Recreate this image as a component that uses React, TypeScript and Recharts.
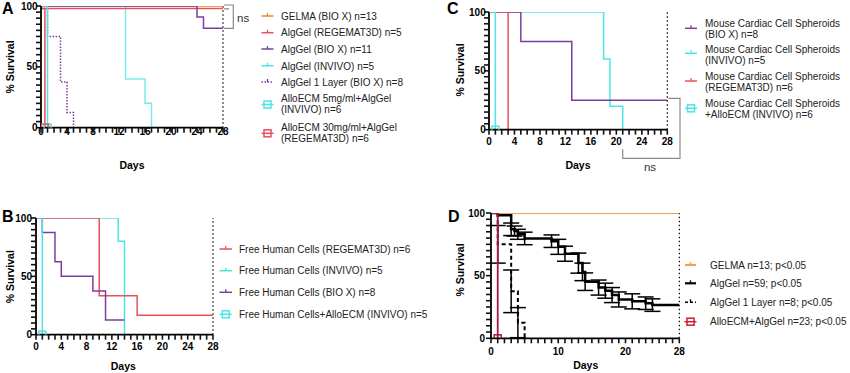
import React from 'react';
import { LineChart, Line, XAxis, YAxis, ReferenceLine, ErrorBar } from 'recharts';

type Pt = { t: number; s: number; e?: number };

// ---------- tick values ----------
const dayTicks = [0, 1, 2, 3, 4, 5, 6, 7, 8, 9, 10, 11, 12, 13, 14, 15, 16, 17, 18, 19, 20, 21, 22, 23, 24, 25, 26, 27, 28];
const dayLabelsABC = [0, 4, 8, 12, 16, 20, 24, 28];
const dayLabelsD = [0, 10, 20, 28];
const survTicks = [0, 5, 10, 15, 20, 25, 30, 35, 40, 45, 50, 55, 60, 65, 70, 75, 80, 85, 90, 95, 100];
const survLabels = [0, 50, 100];

// ---------- Panel A ----------
const gelmaA: Pt[] = [{ t: 0, s: 100 }, { t: 28, s: 100 }];
const algRegA: Pt[] = [{ t: 0, s: 98 }, { t: 28, s: 98 }];
const algBioA: Pt[] = [{ t: 0, s: 100 }, { t: 24, s: 90.9 }, { t: 25, s: 81.8 }, { t: 28, s: 81.8 }];
const algInvA: Pt[] = [{ t: 0, s: 100 }, { t: 13, s: 40 }, { t: 16, s: 20 }, { t: 17, s: 0 }];
const alg1LA: Pt[] = [{ t: 0, s: 100 }, { t: 1, s: 75 }, { t: 3, s: 37.5 }, { t: 4, s: 12.5 }, { t: 5, s: 0 }];
const ecm5A: Pt[] = [{ t: 0, s: 100 }, { t: 1, s: 0 }];
const ecm30A: Pt[] = [{ t: 0, s: 98 }, { t: 0.6, s: 0 }];
const legendA = [
  ['GELMA (BIO X) n=13'],
  ['AlgGel (REGEMAT3D) n=5'],
  ['AlgGel (BIO X) n=11'],
  ['AlgGel (INVIVO) n=5'],
  ['AlgGel 1 Layer (BIO X) n=8'],
  ['AlloECM 5mg/ml+AlgGel', '(INVIVO) n=6'],
  ['AlloECM 30mg/ml+AlgGel', '(REGEMAT3D) n=6'],
];

// ---------- Panel B ----------
const redB: Pt[] = [{ t: 0, s: 100 }, { t: 10, s: 33.3 }, { t: 16, s: 16.7 }, { t: 28, s: 16.7 }];
const cyanB: Pt[] = [{ t: 0, s: 100 }, { t: 13, s: 80 }, { t: 14, s: 0 }];
const purpleB: Pt[] = [{ t: 0, s: 100 }, { t: 1, s: 87.5 }, { t: 3, s: 62.5 }, { t: 4, s: 50 }, { t: 9, s: 37.5 }, { t: 11, s: 12.5 }, { t: 14, s: 12.5 }];
const ecmB: Pt[] = [{ t: 0, s: 100 }, { t: 1, s: 0 }];
const legendB = [
  ['Free Human Cells (REGEMAT3D) n=6'],
  ['Free Human Cells (INVIVO) n=5'],
  ['Free Human Cells (BIO X) n=8'],
  ['Free Human Cells+AlloECM (INVIVO) n=5'],
];

// ---------- Panel C ----------
const purpleC: Pt[] = [{ t: 0, s: 100 }, { t: 5, s: 75 }, { t: 13, s: 25 }, { t: 28, s: 25 }];
const cyanC: Pt[] = [{ t: 0, s: 100 }, { t: 18, s: 60 }, { t: 19, s: 20 }, { t: 21, s: 0 }];
const redC: Pt[] = [{ t: 0, s: 100 }, { t: 3, s: 0 }];
const ecmC: Pt[] = [{ t: 0, s: 100 }, { t: 1, s: 0 }];
const legendC = [
  ['Mouse Cardiac Cell Spheroids', '(BIO X) n=8'],
  ['Mouse Cardiac Cell Spheroids', '(INVIVO) n=5'],
  ['Mouse Cardiac Cell Spheroids', '(REGEMAT3D) n=6'],
  ['Mouse Cardiac Cell Spheroids', '+AlloECM (INVIVO) n=6'],
];

// ---------- Panel D ----------
const gelmaD: Pt[] = [{ t: 0, s: 100 }, { t: 28, s: 100 }];
const algD: Pt[] = [
  { t: 0, s: 100 }, { t: 1, s: 98.3 }, { t: 3, s: 87, e: 5 }, { t: 3.5, s: 85.6, e: 4 }, { t: 4, s: 83, e: 4 },
  { t: 5, s: 79.7, e: 5 }, { t: 9, s: 77.5, e: 5 }, { t: 10, s: 73, e: 6 }, { t: 11, s: 67.5, e: 6 },
  { t: 13, s: 60, e: 8 }, { t: 13.6, s: 53, e: 7 }, { t: 14, s: 45.2, e: 7 }, { t: 16, s: 40.5, e: 6 },
  { t: 17, s: 38, e: 6 }, { t: 18, s: 34.5, e: 6 }, { t: 19, s: 31, e: 6 }, { t: 21, s: 29.5, e: 6 },
  { t: 23, s: 28, e: 5 }, { t: 24, s: 26.5, e: 5 }, { t: 28, s: 26.5 },
];
const alg1LD: Pt[] = [{ t: 0, s: 100 }, { t: 1, s: 75, e: 15 }, { t: 3, s: 37.5, e: 17 }, { t: 4, s: 12.5, e: 12 }, { t: 5, s: 0 }];
const ecmD: Pt[] = [{ t: 0, s: 100 }, { t: 1, s: 0 }];
const legendD = [
  ['GELMA n=13; p<0.05'],
  ['AlgGel n=59; p<0.05'],
  ['AlgGel 1 Layer n=8; p<0.05'],
  ['AlloECM+AlgGel n=23; p<0.05'],
];

// ---------- styles ----------
const FONT = '"Liberation Sans", Arial, Helvetica, sans-serif';
const ORANGE = '#F5841F';
const ORANGE_D = '#EFA35A';
const RED = '#E8505B';
const PURPLE = '#7A3E9D';
const CYAN = '#4FE3E3';
const MAROON = '#A8174A';
const RED_D = '#C8202E';

type Series = { data: Pt[]; color: string; width?: number; dash?: string; square?: boolean; errors?: boolean; opacity?: number };

type PanelProps = {
  left: number; top: number; w: number; h: number;
  labels: number[]; xOff: number; yOff: number; series: Series[];
};

const TS = 5;

function Panel({ left, top, w, h, labels, xOff, yOff, series }: PanelProps) {
  const ML = 40, MT = 10, MR = 12, MB = 30;
  const xTick = (p: any) => {
    const v = p.payload.value;
    if (labels.indexOf(v) < 0) return <g />;
    return (
      <text x={p.x} y={p.y - TS + xOff} dy="0.36em" textAnchor="middle" fontSize={10} fontWeight="bold" fontFamily={FONT} fill="#000">{v}</text>
    );
  };
  const yTick = (p: any) => {
    const v = p.payload.value;
    if (survLabels.indexOf(v) < 0) return <g />;
    return (
      <text x={p.x + TS - yOff} y={p.y} dy="0.36em" textAnchor="end" fontSize={10} fontWeight="bold" fontFamily={FONT} fill="#000">{v}</text>
    );
  };
  return (
    <div style={{ position: 'absolute', left: left - ML, top: top - MT }}>
      <LineChart width={w + ML + MR} height={h + MT + MB} margin={{ top: MT, right: MR, bottom: 0, left: 0 }}>
        <XAxis type="number" dataKey="t" domain={[0, 28]} ticks={dayTicks} interval={0} allowDataOverflow
          tickSize={TS} tickMargin={0} tickLine={{ stroke: '#111', strokeWidth: 1.6 }} height={MB} tick={xTick}
          axisLine={{ stroke: '#000', strokeWidth: 1.8 }} />
        <YAxis type="number" domain={[0, 100]} ticks={survTicks} interval={0} allowDataOverflow
          tickSize={TS} tickMargin={0} tickLine={{ stroke: '#111', strokeWidth: 1.6 }} width={ML} tick={yTick}
          axisLine={{ stroke: '#000', strokeWidth: 1.8 }} />
        <ReferenceLine x={28} stroke="#000" strokeDasharray="1.5 2.5" strokeWidth={1.2} />
        {series.map((s, i) => (
          <Line key={i} data={s.data} dataKey="s" type="stepAfter" stroke={s.color}
            strokeWidth={s.width ?? 1.5} strokeDasharray={s.dash} strokeOpacity={s.opacity ?? 1} isAnimationActive={false}
            dot={s.square ? (d: any) => (d.index === s.data.length - 1
              ? <rect key={d.index} x={d.cx - 3.5} y={d.cy - 3.5} width={7} height={7} fill="none" stroke={s.color} strokeWidth={1.5} />
              : <g key={d.index} />) : false}
            activeDot={false}>
            {s.errors ? <ErrorBar dataKey="e" direction="y" width={8} stroke="#000" strokeWidth={1.5} /> : null}
          </Line>
        ))}
      </LineChart>
    </div>
  );
}

function Marker({ x1, x2, y, color, kind }: { x1: number; x2: number; y: number; color: string; kind: string }) {
  const cx = (x1 + x2) / 2;
  if (kind === 'square') {
    return (
      <g>
        <line x1={cx - 6} x2={cx + 6} y1={y} y2={y} stroke={color} strokeWidth={1.5} />
        <rect x={cx - 3.5} y={y - 3.5} width={7} height={7} fill="none" stroke={color} strokeWidth={1.5} />
      </g>
    );
  }
  return (
    <g>
      <line x1={x1} x2={x2} y1={y} y2={y} stroke={color} strokeWidth={kind === 'thick' ? 2.2 : 1.5}
        strokeDasharray={kind === 'dotted' ? '1.5 1.5' : kind === 'dashed' ? '3 2' : undefined} />
      <line x1={cx} x2={cx} y1={y - 3} y2={y} stroke={color} strokeWidth={1.3} />
    </g>
  );
}

function Legend({ items, colors, kinds, markerYs, lineYs, mx1, mx2, tx }: any) {
  return (
    <g>
      {items.map((lines: string[], i: number) => (
        <g key={i}>
          <Marker x1={mx1} x2={mx2} y={markerYs[i]} color={colors[i]} kind={kinds[i]} />
          {lines.map((ln: string, j: number) => (
            <text key={j} x={tx} y={lineYs[i] + j * 11} dy="0.36em" fontSize={10} fontFamily={FONT} fill="#222">{ln}</text>
          ))}
        </g>
      ))}
    </g>
  );
}

export default function App() {
  const letter = { fontSize: 16, fontWeight: 'bold' as const, fontFamily: FONT, fill: '#000' };
  const axisTitle = { fontSize: 10.5, fontWeight: 'bold' as const, fontFamily: FONT, fill: '#000', textAnchor: 'middle' as const };
  return (
    <div style={{ position: 'absolute', left: 0, top: 0, width: 850, height: 373, background: '#fff', overflow: 'hidden' }}>
      <Panel left={40.7} top={6} w={182} h={121.7} labels={dayLabelsABC} xOff={3.8} yOff={3.4}
        series={[
          { data: gelmaA, color: ORANGE },
          { data: algInvA, color: CYAN, opacity: 0.75 },
          { data: algRegA, color: RED },
          { data: algBioA, color: PURPLE },
          { data: alg1LA, color: PURPLE, dash: '1.5 1.5' },
          { data: ecm5A, color: CYAN, square: true },
          { data: ecm30A, color: RED, square: true },
        ]} />
      <Panel left={35.7} top={218.3} w={177} h={116.7} labels={dayLabelsABC} xOff={11.7} yOff={4}
        series={[
          { data: cyanB, color: CYAN },
          { data: redB, color: RED },
          { data: purpleB, color: PURPLE },
          { data: ecmB, color: CYAN, square: true },
        ]} />
      <Panel left={489} top={12.3} w={178.3} h={117.7} labels={dayLabelsABC} xOff={11.7} yOff={3.3}
        series={[
          { data: cyanC, color: CYAN },
          { data: purpleC, color: PURPLE },
          { data: redC, color: RED },
          { data: ecmC, color: CYAN, square: true },
        ]} />
      <Panel left={491} top={213} w={188.3} h={125.3} labels={dayLabelsD} xOff={13.4} yOff={6}
        series={[
          { data: gelmaD, color: ORANGE_D, width: 1.8 },
          { data: algD, color: '#000', width: 2.5, errors: true },
          { data: alg1LD, color: '#000', width: 2, dash: '4 3', errors: true },
          { data: ecmD, color: MAROON, width: 1.8, square: true },
        ]} />

      <svg width={850} height={373} style={{ position: 'absolute', left: 0, top: 0, pointerEvents: 'none' }}>
        {/* panel letters */}
        <text x={2} y={14} {...letter}>A</text>
        <text x={447} y={14} {...letter}>C</text>
        <text x={2} y={222} {...letter}>B</text>
        <text x={448} y={222} {...letter}>D</text>

        {/* axis titles */}
        <text x={132} y={165} dy="0.36em" {...axisTitle}>Days</text>
        <text x={123.3} y={366} dy="0.36em" {...axisTitle}>Days</text>
        <text x={578} y={165.7} dy="0.36em" {...axisTitle}>Days</text>
        <text x={585.7} y={365} dy="0.36em" {...axisTitle}>Days</text>
        <text transform="translate(10,67) rotate(-90)" dy="0.36em" {...axisTitle}>% Survival</text>
        <text transform="translate(10,276.7) rotate(-90)" dy="0.36em" {...axisTitle}>% Survival</text>
        <text transform="translate(460,70) rotate(-90)" dy="0.36em" {...axisTitle}>% Survival</text>
        <text transform="translate(460,270) rotate(-90)" dy="0.36em" {...axisTitle}>% Survival</text>

        {/* ns brackets */}
        <path d="M224 5 H233.3 V28.3 H224 M224 8.8 H229 V8.8" fill="none" stroke="#8a8a8a" strokeWidth={1.2} />
        <text x={237} y={17.5} dy="0.36em" fontSize={11.5} fontFamily={FONT} fill="#333">ns</text>
        <path d="M668.3 98.3 H680 V158.3 H622.7 V149.3" fill="none" stroke="#8a8a8a" strokeWidth={1.2} />
        <text x={650} y={166.7} dy="0.36em" fontSize={11.5} fontFamily={FONT} fill="#333" textAnchor="middle">ns</text>

        {/* legends */}
        <Legend items={legendA}
          colors={[ORANGE, RED, PURPLE, CYAN, PURPLE, CYAN, RED]}
          kinds={['line', 'line', 'line', 'line', 'dotted', 'square', 'square']}
          markerYs={[16, 32.7, 49, 65.7, 82, 104.5, 133.3]}
          lineYs={[16.7, 32.7, 49, 66, 82, 98.7, 127.7]}
          mx1={261.5} mx2={273.5} tx={281} />
        <Legend items={legendB}
          colors={[RED, CYAN, PURPLE, CYAN]}
          kinds={['line', 'line', 'line', 'square']}
          markerYs={[249, 270.7, 292.3, 314.3]}
          lineYs={[249, 270.7, 292.3, 314.3]}
          mx1={219.5} mx2={232} tx={239} />
        <Legend items={legendC}
          colors={[PURPLE, CYAN, RED, CYAN]}
          kinds={['line', 'line', 'line', 'square']}
          markerYs={[28.3, 53.3, 81, 108.3]}
          lineYs={[23.3, 49, 76.3, 103.3]}
          mx1={685} mx2={697} tx={705} />
        <Legend items={legendD}
          colors={[ORANGE_D, '#000', '#000', RED_D]}
          kinds={['thick', 'thick', 'dashed', 'square']}
          markerYs={[265, 283.3, 302.3, 321.7]}
          lineYs={[265, 283.3, 302.3, 321.7]}
          mx1={685} mx2={696} tx={710} />
      </svg>
    </div>
  );
}
